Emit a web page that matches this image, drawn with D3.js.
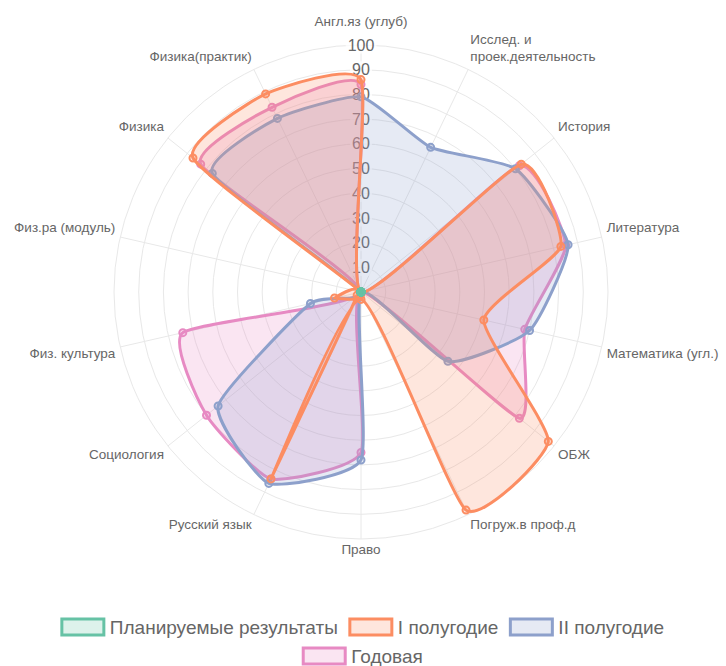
<!DOCTYPE html>
<html>
<head>
<meta charset="utf-8">
<script src="https://cdn.jsdelivr.net/npm/d3@7"></script>
<style>
  body { margin: 0; background: #fff; }
  svg { display: block; font-family: "Liberation Sans", Arial, sans-serif; }
</style>
</head>
<body>
<svg width="726" height="666"></svg>
<script>
// categories (axes), clockwise from the top
const labels = [
  "Англ.яз (углуб)", ["Исслед. и", "проек.деятельность"], "История", "Литература",
  "Математика (угл.)", "ОБЖ", "Погруж.в проф.д", "Право", "Русский язык",
  "Социология", "Физ. культура", "Физ.ра (модуль)", "Физика", "Физика(практик)"
];
// series values
const planned = [0, 0, 0, 0, 0, 0, 0, 0, 0, 0, 0, 0, 0, 0];
const half1   = [86, 0, 83, 83, 51, 97, 98, 3, 84, 2, 11, 0, 87, 89];
const half2   = [79, 65, 80, 86, 70, 45, 0, 68, 86, 74, 21, 0, 77, 78];
const yearly  = [84, 0, 82, 85, 68, 82, 0, 65, 84, 80, 74, 0, 83, 83];
const tickValues = [10, 20, 30, 40, 50, 60, 70, 80, 90, 100];
const seriesNames = ["Планируемые результаты", "I полугодие", "II полугодие", "Годовая"];
const seriesColors = ["#66c2a5", "#fc8d62", "#8da0cb", "#e78ac3"];

const svg = d3.select("svg");
const width = +svg.attr("width");
const cx = 361, cy = 292, R = 247;

const rScale = d3.scaleLinear().domain([0, 100]).range([0, R]);
const aScale = d3.scaleLinear().domain([0, labels.length]).range([0, 2 * Math.PI]);

const g = svg.append("g").attr("transform", `translate(${cx},${cy})`);

// grid rings and spokes
g.selectAll("circle.ring")
  .data(tickValues)
  .join("circle")
  .attr("class", "ring")
  .attr("r", d => rScale(d))
  .attr("fill", "none")
  .attr("stroke", "#e8e8e8");

g.selectAll("line.spoke")
  .data(labels)
  .join("line")
  .attr("class", "spoke")
  .attr("x2", (d, i) => rScale(100) * Math.sin(aScale(i)))
  .attr("y2", (d, i) => -rScale(100) * Math.cos(aScale(i)))
  .attr("stroke", "#e8e8e8");

// tick labels with a white backdrop
const ticks = g.selectAll("g.tick")
  .data(tickValues)
  .join("g")
  .attr("class", "tick")
  .attr("transform", d => `translate(0,${-rScale(d)})`);
ticks.append("rect").attr("fill", "rgba(255,255,255,0.75)");
ticks.append("text")
  .attr("text-anchor", "middle")
  .attr("dy", "0.35em")
  .attr("font-size", 16)
  .attr("fill", "#666")
  .text(d => d);
ticks.each(function() {
  const bb = d3.select(this).select("text").node().getBBox();
  d3.select(this).select("rect")
    .attr("x", bb.x - 2).attr("y", bb.y)
    .attr("width", bb.width + 4).attr("height", bb.height);
});

// point labels
const lineH = 17;
labels.forEach((lab, i) => {
  const a = aScale(i);
  const dist = R + 5 + (i === 0 ? 10 : 0);
  const px = dist * Math.sin(a), py = -dist * Math.cos(a);
  const lines = Array.isArray(lab) ? lab : [lab];
  const s = Math.sin(a), c = Math.cos(a);
  const anchor = Math.abs(s) < 0.01 ? "middle" : (s > 0 ? "start" : "end");
  let y0;
  if (c > 0.01) y0 = py - 9 - (lines.length - 1) * lineH;
  else if (c < -0.01) y0 = py + 5;
  else y0 = py - (lines.length - 1) * lineH / 2;
  const t = g.append("text")
    .attr("text-anchor", anchor)
    .attr("font-size", 13.5)
    .attr("fill", "#666");
  lines.forEach((ln, k) => {
    t.append("tspan").attr("x", px).attr("y", y0 + k * lineH).attr("dy", "0.35em").text(ln);
  });
});

// series
const series = [planned, half1, half2, yearly];
const fillOf = col => { const c = d3.color(col); c.opacity = 0.22; return c.toString(); };
const radial = d3.lineRadial()
  .angle((d, i) => aScale(i))
  .radius(d => rScale(d))
  .curve(d3.curveCardinalClosed.tension(0.5));

// chart.js draws the first dataset on top, so go in reverse
d3.range(series.length - 1, -1, -1).forEach(si => {
  const vals = series[si];
  const col = seriesColors[si];
  const sg = g.append("g");
  sg.append("path")
    .attr("d", radial(vals))
    .attr("fill", fillOf(col))
    .attr("stroke", col)
    .attr("stroke-width", 3)
    .attr("stroke-linejoin", "round");
  sg.selectAll("circle")
    .data(vals)
    .join("circle")
    .attr("cx", (d, i) => rScale(d) * Math.sin(aScale(i)))
    .attr("cy", (d, i) => -rScale(d) * Math.cos(aScale(i)))
    .attr("r", 3.5)
    .attr("fill", fillOf(col))
    .attr("stroke", col)
    .attr("stroke-width", 2);
});

// legend, wrapped into centred rows
const boxW = 42, boxH = 16, fontSize = 19, itemGap = 12, rowH = 29;
const legend = svg.append("g").attr("font-size", fontSize);
const items = seriesNames.map((name, i) => {
  const it = legend.append("g");
  it.append("rect")
    .attr("width", boxW).attr("height", boxH)
    .attr("y", -boxH / 2)
    .attr("fill", fillOf(seriesColors[i]))
    .attr("stroke", seriesColors[i])
    .attr("stroke-width", 3);
  const txt = it.append("text")
    .attr("x", boxW + 6)
    .attr("dy", "0.35em")
    .attr("fill", "#666")
    .text(name);
  return { it, w: boxW + 6 + txt.node().getComputedTextLength() };
});
const rows = [[]];
let rowW = 0;
items.forEach(item => {
  if (rowW + item.w > width - 20 && rows[rows.length - 1].length) { rows.push([]); rowW = 0; }
  rows[rows.length - 1].push(item);
  rowW += item.w + itemGap;
});
rows.forEach((row, ri) => {
  const total = d3.sum(row, d => d.w) + itemGap * (row.length - 1);
  let x = (width - total) / 2;
  row.forEach(item => {
    item.it.attr("transform", `translate(${x},${627 + ri * rowH})`);
    x += item.w + itemGap;
  });
});
</script>
</body>
</html>
